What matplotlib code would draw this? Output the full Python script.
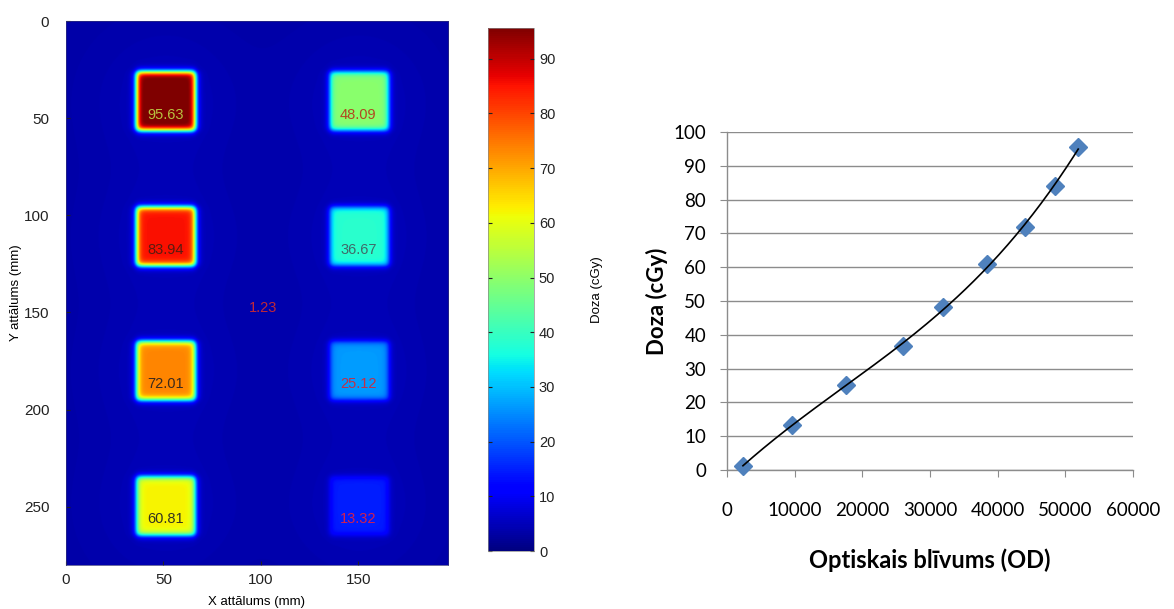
import matplotlib.pyplot as plt
import numpy as np

# film dose map, cGy
doses_left = [95.63, 83.94, 72.01, 60.81]
doses_right = [48.09, 36.67, 25.12, 13.32]
col_x = [51, 150]           # square centres, mm
row_y = [41.5, 111, 180, 249.5]
center_dose = 1.23
bg_level = 3.5
labels_left_colors = ['#b8c040', '#5a1c10', '#3c2a1c', '#333322']
labels_right_colors = ['#b04a20', '#3f6a6a', '#c0304a', '#d02050']

# calibration curve
od = [2350, 9560, 17650, 26000, 31900, 38350, 44100, 48500, 51900]
dose = [1.23, 13.32, 25.12, 36.67, 48.09, 60.81, 72.01, 83.94, 95.63]

plt.rcParams['font.family'] = ['Liberation Sans', 'DejaVu Sans']

fig = plt.figure(figsize=(11.74, 6.09), dpi=100)

# ---- left: dose map ----
xs = np.arange(0, 196, 0.25)
ys = np.arange(0, 280, 0.25)
X, Y = np.meshgrid(xs, ys)
field = np.full(X.shape, bg_level)
half = 15.0
for cx, vals in zip(col_x, [doses_left, doses_right]):
    for cy, v in zip(row_y, vals):
        sx = 1 / (1 + np.exp(-(half - np.abs(X - cx)) / 0.9))
        sy = 1 / (1 + np.exp(-(half - np.abs(Y - cy)) / 0.9))
        halo = 1.5 * np.exp(-((X - cx) ** 2 + (Y - cy) ** 2) / (2 * 25.0 ** 2))
        field += (v - bg_level) * sx * sy + halo

ax1 = fig.add_axes([0.0562, 0.0722, 0.3254, 0.8933])
im = ax1.imshow(field, cmap='jet', vmin=0, vmax=95.63, extent=[0, 196, 280, 0],
                aspect='auto', interpolation='bilinear')
ax1.set_xticks([0, 50, 100, 150])
ax1.set_yticks([0, 50, 100, 150, 200, 250])
ax1.tick_params(direction='in', length=3, labelsize=11, colors='#222222', pad=6)
ax1.tick_params(axis='y', pad=12)
for s in ax1.spines.values():
    s.set_linewidth(0.5)
    s.set_color('#30307a')
ax1.set_xlabel('X attālums (mm)', fontsize=9.5, labelpad=6)
ax1.set_ylabel('Y attālums (mm)', fontsize=9.5, labelpad=1)

for cx, vals, cols in zip(col_x, [doses_left, doses_right],
                          [labels_left_colors, labels_right_colors]):
    for cy, v, c in zip(row_y, vals, cols):
        ax1.text(cx, cy + 7, f'{v:.2f}', color=c, fontsize=10.5,
                 ha='center', va='center')
ax1.text(101, 147.5, f'{center_dose:.2f}', color='#c02838', fontsize=10.5,
         ha='center', va='center')

cax = fig.add_axes([0.4157, 0.0952, 0.0392, 0.859])
cb = fig.colorbar(im, cax=cax, ticks=np.arange(0, 100, 10))
cb.outline.set_linewidth(0.5)
cb.outline.set_edgecolor('#888888')
cax.tick_params(direction='in', length=3, left=True, right=True,
                labelsize=10.5, colors='#222222')
cb.set_label('Doza (cGy)', fontsize=9.5, labelpad=26)

# ---- right: calibration curve ----
ax2 = fig.add_axes([0.6193, 0.2282, 0.3458, 0.555])
grid_c = '#8c8c8c'
ax2.set_xlim(0, 60000)
ax2.set_ylim(0, 100)
ax2.set_xticks(np.arange(0, 60001, 10000))
ax2.set_yticks(np.arange(0, 101, 10))
ax2.yaxis.grid(True, color=grid_c, linewidth=1.0)
ax2.set_axisbelow(True)
for side in ['top', 'right']:
    ax2.spines[side].set_visible(False)
for side in ['left', 'bottom']:
    ax2.spines[side].set_color(grid_c)
    ax2.spines[side].set_linewidth(1.0)
ax2.tick_params(axis='both', direction='out', length=5, color=grid_c,
                labelsize=13.5)
ax2.tick_params(axis='x', pad=18)
ax2.tick_params(axis='y', pad=10)
for lab in ax2.get_xticklabels() + ax2.get_yticklabels():
    lab.set_family(['Lato', 'DejaVu Sans'])

coef = np.polyfit(od, dose, 3)
xfit = np.linspace(od[0], od[-1], 200)
ax2.plot(od, dose, linestyle='none', marker='D', markersize=9.5,
         color='#4f81bd', markeredgecolor='#4f81bd', zorder=3, clip_on=False)
ax2.plot(xfit, np.polyval(coef, xfit), color='black', linewidth=1.2, zorder=4)

ax2.set_xlabel('Optiskais blīvums (OD)', fontsize=17, fontweight='bold',
               family=['Lato', 'DejaVu Sans'], labelpad=21)
ax2.set_ylabel('Doza (cGy)', fontsize=16, fontweight='bold',
               family=['Lato', 'DejaVu Sans'], labelpad=4)

fig.savefig('out.png', dpi=100)
